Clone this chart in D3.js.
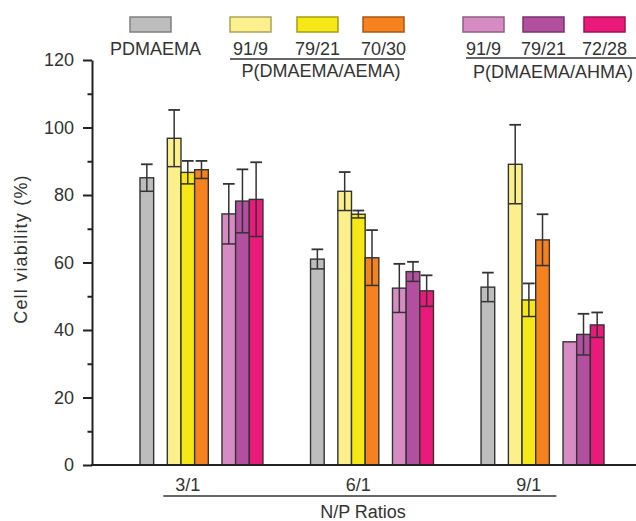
<!DOCTYPE html>
<html>
<head>
<meta charset="utf-8">
<script src="https://cdn.jsdelivr.net/npm/d3@7"></script>
<style>
  body { margin: 0; background: #fff; }
  svg { display: block; }
  text { font-family: "Liberation Sans", Arial, sans-serif; fill: #333; }
</style>
</head>
<body>
<div id="chart"></div>
<script>
/*
  cell viability bar chart with error bars
*/

// N/P ratio groups on the x axis
var ratios = ["3/1", "6/1", "9/1"];

// polymer series, in drawing order
var series = ["PDMAEMA", "AEMA 91/9", "AEMA 79/21", "AEMA 70/30", "AHMA 91/9", "AHMA 79/21", "AHMA 72/28"];
var legendLabels = ["PDMAEMA", "91/9", "79/21", "70/30", "91/9", "79/21", "72/28"];
var colors = ["#bdbdbd", "#fbf08c", "#f5e816", "#f5821f", "#d68cc2", "#b24f9f", "#ea1a7b"];

// mean viability (%) per ratio, one value per series
var viability31 = [85.1, 96.8, 86.7, 87.5, 74.4, 78.2, 78.7];
var viability61 = [61.0, 81.1, 74.3, 61.4, 52.4, 57.3, 51.6];
var viability91 = [52.7, 89.1, 48.9, 66.7, 36.5, 38.7, 41.5];

// standard deviation per ratio
var error31 = [4.0, 8.4, 3.4, 2.6, 8.9, 9.4, 11.0];
var error61 = [2.9, 5.7, 1.1, 8.2, 7.2, 2.9, 4.6];
var error91 = [4.3, 11.7, 4.9, 7.6, 0, 6.1, 3.7];

var yTicks = [0, 20, 40, 60, 80, 100, 120];
var yMinor = [10, 30, 50, 70, 90, 110];

var viability = [viability31, viability61, viability91];
var errors = [error31, error61, error91];

var rows = [];
ratios.forEach(function(r, i) {
  series.forEach(function(s, j) {
    rows.push({ratio: r, series: s, val: viability[i][j], err: errors[i][j], color: colors[j]});
  });
});

var width = 636, height = 521;
var axisX = 92;

var svg = d3.select("#chart").append("svg")
  .attr("width", width).attr("height", height);

// scales
var y = d3.scaleLinear().domain([0, 120]).range([465, 60]);

var xGroup = d3.scaleBand().domain(ratios)
  .range([140, 604]).paddingInner(0.279).paddingOuter(0);

// slots inside a group: gray bar, gap, three AEMA, gap, three AHMA
var slots = [series[0], "gap1", series[1], series[2], series[3], "gap2", series[4], series[5], series[6]];
var xSlot = d3.scaleBand().domain(slots).range([0, xGroup.bandwidth()]);
var bw = xSlot.bandwidth();

// bars
var bars = svg.append("g").selectAll("g.bar")
  .data(rows).enter().append("g").attr("class", "bar");

bars.append("rect")
  .attr("x", function(d) { return xGroup(d.ratio) + xSlot(d.series); })
  .attr("y", function(d) { return y(d.val); })
  .attr("width", bw)
  .attr("height", function(d) { return y(0) - y(d.val); })
  .attr("fill", function(d) { return d.color; })
  .attr("stroke", "#333")
  .attr("stroke-width", 1.4);

// error bars
var eb = bars.filter(function(d) { return d.err > 0; });
eb.append("line")
  .attr("x1", function(d) { return xGroup(d.ratio) + xSlot(d.series) + bw / 2; })
  .attr("x2", function(d) { return xGroup(d.ratio) + xSlot(d.series) + bw / 2; })
  .attr("y1", function(d) { return y(d.val - d.err); })
  .attr("y2", function(d) { return y(d.val + d.err); })
  .attr("stroke", "#333").attr("stroke-width", 1.5);
eb.append("line")
  .attr("x1", function(d) { return xGroup(d.ratio) + xSlot(d.series) + 1; })
  .attr("x2", function(d) { return xGroup(d.ratio) + xSlot(d.series) + bw - 1; })
  .attr("y1", function(d) { return y(d.val + d.err); })
  .attr("y2", function(d) { return y(d.val + d.err); })
  .attr("stroke", "#333").attr("stroke-width", 1.8);
eb.append("line")
  .attr("x1", function(d) { return xGroup(d.ratio) + xSlot(d.series); })
  .attr("x2", function(d) { return xGroup(d.ratio) + xSlot(d.series) + bw; })
  .attr("y1", function(d) { return y(d.val - d.err); })
  .attr("y2", function(d) { return y(d.val - d.err); })
  .attr("stroke", "#333").attr("stroke-width", 1.5);

// y axis, major and minor ticks
var yAxis = svg.append("g")
  .attr("transform", "translate(" + axisX + ",0)")
  .call(d3.axisLeft(y).tickValues(yTicks).tickSize(9).tickSizeOuter(0).tickPadding(9));
svg.append("g")
  .attr("transform", "translate(" + axisX + ",0)")
  .call(d3.axisLeft(y).tickValues(yMinor).tickSize(4.5).tickSizeOuter(0).tickFormat(""))
  .select(".domain").remove();
svg.selectAll(".tick line").attr("stroke", "#222").attr("stroke-width", 2);
yAxis.select(".domain").attr("stroke", "#222").attr("stroke-width", 2);
yAxis.selectAll(".tick text")
  .style("font-size", "18px").attr("fill", "#333")
  .style("font-family", "'Liberation Sans', Arial, sans-serif");

svg.append("text")
  .attr("transform", "translate(27," + 249 + ") rotate(-90)")
  .attr("text-anchor", "middle")
  .style("font-size", "18px").style("letter-spacing", "1.2px")
  .text("Cell viability (%)");

// x axis line
svg.append("line")
  .attr("x1", axisX - 1).attr("x2", width)
  .attr("y1", y(0)).attr("y2", y(0))
  .attr("stroke", "#222").attr("stroke-width", 2);

// group labels under the middle AEMA bar
svg.append("g").selectAll("text")
  .data(ratios).enter().append("text")
  .attr("x", function(r) { return xGroup(r) + xSlot(series[2]) + bw / 2; })
  .attr("y", 491)
  .attr("text-anchor", "middle")
  .style("font-size", "18px")
  .text(function(r) { return r; });

svg.append("line")
  .attr("x1", xGroup(ratios[0]) + xSlot(series[1]) - 4)
  .attr("x2", xGroup(ratios[2]) + xSlot(series[3]) + bw + 7)
  .attr("y1", 496).attr("y2", 496)
  .attr("stroke", "#333").attr("stroke-width", 1.5);

svg.append("text")
  .attr("x", 363).attr("y", 518)
  .attr("text-anchor", "middle")
  .style("font-size", "18px")
  .text("N/P Ratios");

// legend
var legendX = [130, 230, 297, 363, 463, 523, 584];
var legend = svg.append("g").selectAll("g")
  .data(series).enter().append("g");

legend.append("rect")
  .attr("x", function(d, i) { return legendX[i]; })
  .attr("y", 17)
  .attr("width", 41).attr("height", 15)
  .attr("fill", function(d, i) { return colors[i]; })
  .attr("stroke", function(d, i) { return d3.color(colors[i]).darker(1.1); })
  .attr("stroke-width", 1.5);

legend.append("text")
  .attr("x", function(d, i) { return legendX[i] + 20.5 + (i == 0 ? 5 : 0); })
  .attr("y", 55)
  .attr("text-anchor", "middle")
  .style("font-size", "18px")
  .text(function(d, i) { return legendLabels[i]; });

// copolymer brackets
svg.append("line").attr("x1", 230).attr("x2", 404).attr("y1", 59).attr("y2", 59)
  .attr("stroke", "#333").attr("stroke-width", 1.5);
svg.append("text").attr("x", 321).attr("y", 77).attr("text-anchor", "middle")
  .style("font-size", "18px").text("P(DMAEMA/AEMA)");

svg.append("line").attr("x1", 466).attr("x2", width).attr("y1", 58).attr("y2", 58)
  .attr("stroke", "#333").attr("stroke-width", 1.5);
svg.append("text").attr("x", 553).attr("y", 78).attr("text-anchor", "middle")
  .style("font-size", "18px").text("P(DMAEMA/AHMA)");
</script>
</body>
</html>
